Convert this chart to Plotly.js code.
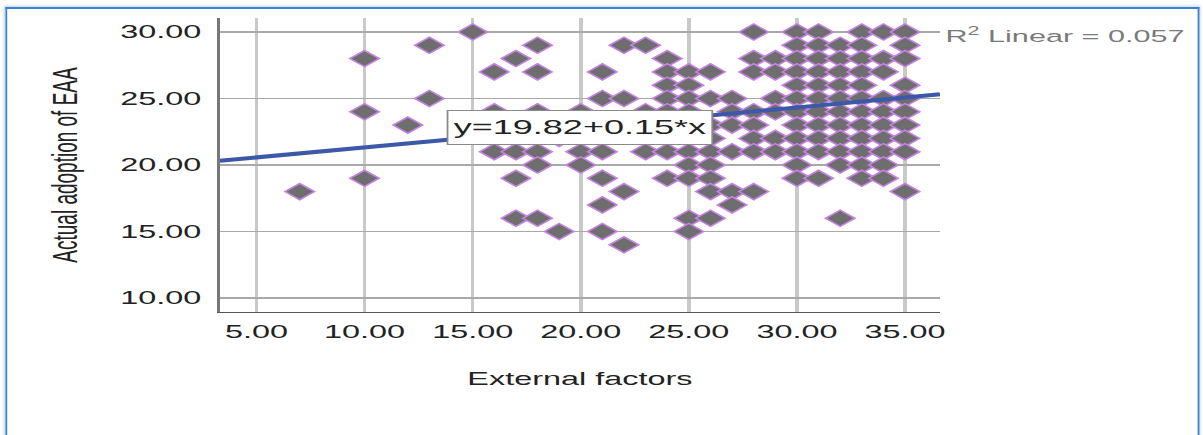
<!DOCTYPE html>
<html>
<head>
<meta charset="utf-8">
<script src="https://cdn.plot.ly/plotly-3.0.1.min.js"></script>
<style>
  html, body { margin: 0; padding: 0; background: #ffffff; width: 1203px; height: 435px; overflow: hidden; }
  #stage { position: absolute; left: 0; top: 0; width: 668px; height: 435px; transform-origin: 0 0; }
  #chart { position: absolute; left: 0; top: 0; width: 668px; height: 435px; }
  #frame { position: absolute; left: 3px; top: 7px; width: 663px; height: 470px; box-sizing: border-box;
           border-top: 2px solid #3f7fcf; border-left: 1.6px solid #3f7fcf; border-right: 1.6px solid #3f7fcf;
           box-shadow: 0 0 2px 1px rgba(140,185,235,0.7); pointer-events: none; }
</style>
</head>
<body>
<div id="stage">
  <div id="chart"></div>
  <div id="frame"></div>
</div>
<script>
// ---- Data (External factors vs Actual adoption of EAA) ----
const externalFactorLevels = [7, 10, 12, 13, 15, 16, 17, 18, 19, 20, 21, 22, 23, 24, 25, 26, 27, 28, 29, 30, 31, 32, 33, 34, 35];
const adoptionByLevel = [
  [18],
  [28, 24, 19],
  [23],
  [29, 25],
  [30],
  [27, 24, 21],
  [28, 22, 21, 19, 16],
  [29, 27, 24, 21, 20, 16],
  [22, 15],
  [24, 22, 21, 20],
  [27, 25, 22, 21, 19, 17, 15],
  [29, 25, 18, 14],
  [29, 24, 22, 21],
  [28, 27, 26, 25, 24, 23, 22, 21, 19],
  [27, 26, 25, 24, 23, 22, 21, 20, 19, 16, 15],
  [27, 25, 23, 22, 21, 20, 19, 18, 16],
  [25, 24, 23, 21, 18, 17],
  [30, 28, 27, 24, 23, 22, 21, 18],
  [28, 27, 25, 24, 22, 21],
  [30, 29, 28, 27, 26, 25, 24, 23, 22, 21, 20, 19],
  [30, 29, 28, 27, 26, 25, 24, 23, 22, 21, 19],
  [29, 28, 27, 26, 25, 24, 23, 22, 21, 20, 16],
  [30, 29, 28, 27, 26, 25, 24, 23, 22, 21, 20, 19],
  [30, 28, 27, 25, 24, 23, 22, 21, 20, 19],
  [30, 29, 28, 26, 25, 24, 23, 22, 21, 18]
];
const fitIntercept = 19.82;
const fitSlope = 0.15;
const rSquared = 0.057;
const xTickValues = [5, 10, 15, 20, 25, 30, 35];
const yTickValues = [10, 15, 20, 25, 30];
const xAxisTitle = 'External factors';
const yAxisTitle = 'Actual adoption of EAA';

// ---- Build traces ----
const xs = [], ys = [];
externalFactorLevels.forEach(function (lv, i) {
  adoptionByLevel[i].forEach(function (v) { xs.push(lv); ys.push(v); });
});

const xRange = [3.3, 36.62];
const yRange = [8.95, 31.05];
const fitX = xRange.slice();
const fitY = fitX.map(function (x) { return fitIntercept + fitSlope * x; });

const STRETCH = 1203 / 668;
document.getElementById('stage').style.transform = 'scaleX(' + STRETCH + ')';

const font = 'Liberation Sans, Arial, sans-serif';

const traces = [
  {
    type: 'scatter', mode: 'markers', x: xs, y: ys,
    marker: { symbol: 'diamond', size: 12.5, color: '#6e6e6e', line: { color: '#c783e3', width: 1.3 } },
    hoverinfo: 'skip', showlegend: false
  },
  {
    type: 'scatter', mode: 'lines', x: fitX, y: fitY,
    line: { color: '#3c58a8', width: 4 },
    hoverinfo: 'skip', showlegend: false
  }
];

const layout = {
  width: 668, height: 435,
  margin: { l: 122, r: 146, t: 18, b: 123, pad: 0 },
  paper_bgcolor: 'rgba(0,0,0,0)', plot_bgcolor: '#ffffff',
  font: { family: font, color: '#222222', size: 18 },
  showlegend: false,
  xaxis: {
    range: xRange, tickvals: xTickValues, tickformat: '.2f',
    showgrid: true, gridcolor: '#c9c9c9', gridwidth: 2,
    zeroline: false, showline: true, linecolor: '#555555', linewidth: 1.3,
    ticks: '', ticklabelstandoff: 3,
    tickfont: { family: font, size: 18, color: '#222222' },
    title: { text: xAxisTitle, font: { family: font, size: 18, color: '#222222' }, standoff: 31 },
    fixedrange: true
  },
  yaxis: {
    range: yRange, tickvals: yTickValues, tickformat: '.2f',
    showgrid: true, gridcolor: '#a9a9a9', gridwidth: 1.3,
    zeroline: false, showline: true, linecolor: '#777777', linewidth: 1.6,
    ticks: '', ticklabelstandoff: 5,
    tickfont: { family: font, size: 18, color: '#222222' },
    title: { text: yAxisTitle, font: { family: font, size: 19, color: '#222222' }, standoff: 18 },
    fixedrange: true
  },
  annotations: [
    {
      x: 19.96, y: 22.82, xref: 'x', yref: 'y',
      text: 'y=' + fitIntercept.toFixed(2) + '+' + fitSlope.toFixed(2) + '*x',
      showarrow: false, font: { family: font, size: 20, color: '#222222' },
      bgcolor: '#ffffff', bordercolor: '#8a8a8a', borderwidth: 1, borderpad: 0,
      width: 146, height: 33, align: 'center', valign: 'middle'
    },
    {
      x: 1, xref: 'paper', xanchor: 'left', xshift: 0.5,
      y: 29.77, yref: 'y', yanchor: 'middle',
      text: 'R<sup>2</sup> Linear = ' + rSquared.toFixed(3),
      showarrow: false, font: { family: font, size: 17, color: '#7a7a7a' }
    }
  ]
};

Plotly.newPlot('chart', traces, layout, { displayModeBar: false, staticPlot: true });
</script>
</body>
</html>
